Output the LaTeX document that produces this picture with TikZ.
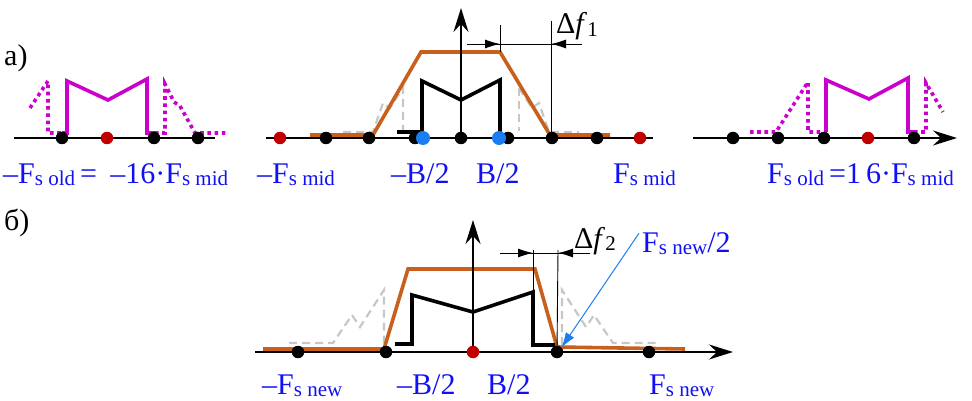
\documentclass[tikz,border=0pt]{standalone}
\usepackage{fontspec}
\setmainfont{Liberation Serif}
\usetikzlibrary{arrows.meta,positioning}
\definecolor{cSpec}{HTML}{C8601C}
\definecolor{cMag}{HTML}{CC00CC}
\definecolor{cLbl}{HTML}{1010F5}
\definecolor{cBlueDot}{HTML}{1A7DF2}
\definecolor{cRedDot}{HTML}{C00000}
\definecolor{cArr}{HTML}{1A7DF2}
\newcommand{\sub}[1]{\raisebox{-0.15ex}{\fontsize{21}{21}\selectfont #1}}

\begin{document}
\begin{tikzpicture}[x=1pt, y=-1pt,
  font=\fontsize{30}{32}\selectfont,
  ax/.style     = {draw=black, line width=1.8pt},
  axarr/.style  = {ax, -{Stealth[length=24pt, width=15pt, inset=8pt]}},
  dot/.style    = {circle, fill=black, inner sep=0pt, minimum size=12.5pt},
  rdot/.style   = {dot, fill=cRedDot},
  bdot/.style   = {dot, fill=cBlueDot, minimum size=14pt},
  spec/.style   = {draw=cSpec, line width=3.6pt, line join=miter},
  sig/.style    = {draw=black, line width=3.6pt},
  mag/.style    = {draw=cMag, line width=3.6pt},
  magal/.style  = {draw=cMag, line width=3.6pt, dash pattern=on 3.6pt off 3.6pt},
  alias/.style  = {draw=black!22, line width=2.2pt, dash pattern=on 8pt off 5pt},
  dim/.style    = {draw=black, line width=0.9pt},
  dimarr/.style = {dim, -{Latex[length=15pt, width=9pt]}},
  lbl/.style    = {text=cLbl, inner sep=0pt, anchor=base west},
  txt/.style    = {inner sep=0pt, anchor=base west},
  nyq/.style    = {draw=cArr, line width=1pt, -{Latex[length=15pt, width=10pt]}},
]
\useasboundingbox (0,0) rectangle (972,401);

% ---------- a) ----------
\node[txt] (capA) at (4,66) {а)};

% left copy at -Fs old
\coordinate (aL0) at (14,138);
\coordinate (aL1) at (215,138);
\draw[ax] (aL0) -- (aL1);
\draw[magal] (30,108) -- (48,81) -- (48,133) -- (62,133);
\draw[mag] (62,133) -- (67,133) -- (67,81) -- (108,100) -- (147,79) -- (147,133) -- (155,133);
\draw[magal] (155,133) -- (165,133) -- (165,84) -- (174,102) -- (180,106) -- (195,133) -- (226,133);
\foreach \n/\x in {1/62, 3/154, 4/198}
  \node[dot] (lD\n) at (\x,138) {};
\node[rdot] (lD2) at (107,138) {};

% middle, baseband at Fs mid
\coordinate (mL0) at (266,138);
\coordinate (mL1) at (653,138);
\coordinate (mTop) at (461,8);
\draw[ax] (mL0) -- (mL1);
\draw[alias] (343,132) -- (373,132) -- (383,103) -- (390,108) -- (403,88) -- (403,131);
\draw[alias] (519,88) -- (519,131);
\draw[alias] (519,88) -- (532,108) -- (539,103) -- (549,132) -- (579,132);
\draw[spec] (310,135) -- (373,135) -- (421,52) -- (500,52) -- (550,135) -- (610,135);
\draw[sig] (397,132) -- (422,132) -- (422,81) -- (461,100) -- (500,80) -- (500,138);
\foreach \n/\x in {1/326, 2/369, 3/415, 4/461, 5/508, 6/552, 7/597}
  \node[dot] (mD\n) at (\x,138) {};
\node[rdot] (mR1) at (280,138) {};
\node[rdot] (mR2) at (640,138) {};
\node[bdot] (mB1) at (423,138) {};
\node[bdot] (mB2) at (499,138) {};
\draw[axarr] (mD4) -- (mTop);

% transition band
\coordinate (d1a) at (500,25);
\coordinate (d1b) at (551,21);
\draw[dim] (d1a) -- (500,52);
\draw[dim] (d1b) -- (551,135);
\draw[dim] (467,44) -- (582,44);
\draw[dimarr] (467,44) -- (500,44);
\draw[dimarr] (582,44) -- (551,44);
\node[txt] (df1) at (556,34) {Δ\textit{f}\sub{1}};

% right copy at +Fs old
\coordinate (rL0) at (693,138);
\coordinate (rL1) at (957,138);
\draw[axarr] (rL0) -- (rL1);
\draw[magal] (750,132) -- (776,132) -- (808,82) -- (808,132) -- (826,132);
\draw[mag] (826,132) -- (826,80) -- (869,99) -- (908,78) -- (908,132) -- (914,132);
\draw[magal] (914,132) -- (926,132) -- (926,83) -- (943,112);
\foreach \n/\x in {1/733, 2/778, 3/824, 5/914}
  \node[dot] (rD\n) at (\x,138) {};
\node[rdot] (rD4) at (868,138) {};

% labels a)
\node[lbl] (lblOldN) at (3,183) {–F\sub{s old}\,=\,\;–16·F\sub{s mid}};
\node[lbl] (lblMidN) at (257,183) {–F\sub{s mid}};
\node[lbl] (lblBnA)  at (391,183) {–B/2};
\node[lbl] (lblBpA)  at (476,183) {B/2};
\node[lbl] (lblMidP) at (613,183) {F\sub{s mid}};
\node[lbl] (lblOldP) at (767,183) {F\sub{s old}\,=1\,6·F\sub{s mid}};

% ---------- b) ----------
\node[txt] (capB) at (4,230) {б)};

\coordinate (bL0) at (255,352);
\coordinate (bL1) at (733,352);
\coordinate (bTop) at (473,220);
\draw[axarr] (bL0) -- (bL1);
\draw[alias] (289,343) -- (333,343) -- (352,315) -- (360,327) -- (384,290) -- (384,345);
\draw[alias] (562,345) -- (562,290) -- (586,327) -- (594,315) -- (613,343) -- (657,343);
\draw[spec] (263,349) -- (384,349) -- (408,269) -- (535,269) -- (557,347) -- (685,349);
\draw[sig] (395,344) -- (412,344) -- (412,295) -- (473,312) -- (533,292) -- (533,345) -- (555,345);
\foreach \n/\x in {1/298, 2/386, 4/557, 5/649}
  \node[dot] (bD\n) at (\x,352) {};
\node[rdot] (bD3) at (473,352) {};
\draw[axarr] (bD3) -- (bTop);

% transition band
\coordinate (d2a) at (533,250);
\coordinate (d2b) at (558,250);
\draw[dim] (d2a) -- (533,292);
\draw[dim] (d2b) -- (bD4);
\draw[dim] (500,253) -- (590,253);
\draw[dimarr] (500,253) -- (533,253);
\draw[dimarr] (590,253) -- (558,253);
\node[txt] (df2) at (574,248) {Δ\textit{f}\sub{2}};

% labels b)
\node[lbl] (lblNewN) at (262,394) {–F\sub{s new}};
\node[lbl] (lblBnB)  at (397,394) {–B/2};
\node[lbl] (lblBpB)  at (487,394) {B/2};
\node[lbl] (lblNewP) at (649,394) {F\sub{s new}};
\node[lbl] (lblNyq)  at (642,252) {F\sub{s new}/2};
\draw[nyq] (lblNyq.west) ++(-3,-10) -- (bD4.north east);
\end{tikzpicture}
\end{document}
